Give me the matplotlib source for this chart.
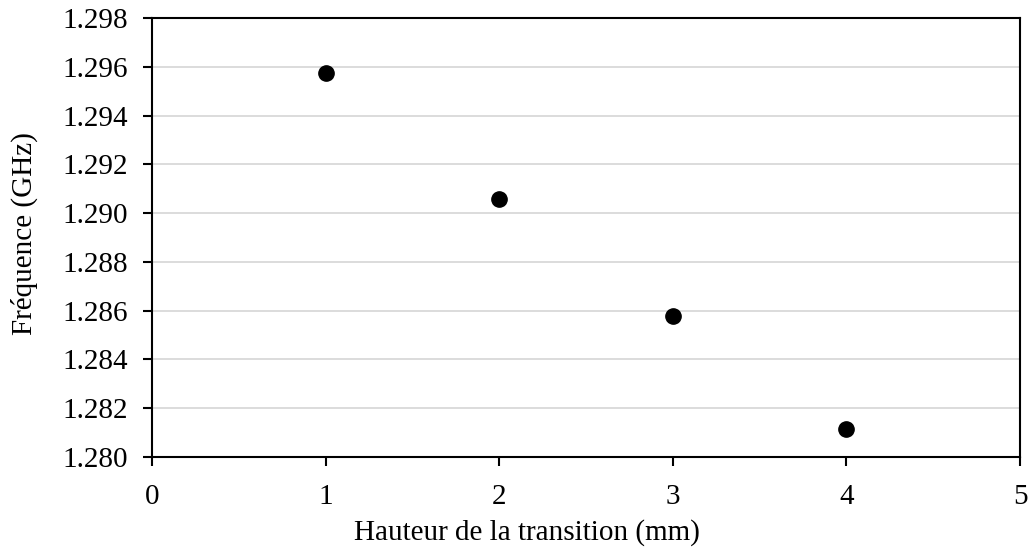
import matplotlib
matplotlib.use("Agg")
import matplotlib.pyplot as plt

hauteur_mm = [1, 2, 3, 4]
frequence_ghz = [1.29575, 1.29058, 1.28578, 1.28115]
x_ticks = [0, 1, 2, 3, 4, 5]
y_ticks = [1.280, 1.282, 1.284, 1.286, 1.288, 1.290, 1.292, 1.294, 1.296, 1.298]

plt.rcParams['font.family'] = ['Liberation Serif', 'DejaVu Serif']

fig = plt.figure(figsize=(10.28, 5.49), dpi=100)
ax = fig.add_axes([152/1028, 1 - 457/549, (1020-152)/1028, (457-18)/549])

ax.plot(hauteur_mm, frequence_ghz, 'o', color='black', markersize=11, zorder=3)

ax.set_xlim(0, 5)
ax.set_ylim(1.280, 1.298)
ax.set_xticks(x_ticks)
ax.set_yticks(y_ticks)
ax.set_yticklabels([f"{v:.3f}" for v in y_ticks])
ax.yaxis.grid(True, color='#d9d9d9', linewidth=1.3)
ax.set_axisbelow(True)

for s in ax.spines.values():
    s.set_linewidth(1.5)
    s.set_color('black')

ax.tick_params(axis='both', direction='out', length=6.5, width=1.5, labelsize=21)
ax.tick_params(axis='x', pad=13)
ax.tick_params(axis='y', pad=11)

ax.set_xlabel('Hauteur de la transition (mm)', fontsize=21)
ax.xaxis.set_label_coords(0.432, -0.141)
ax.set_ylabel('Fréquence (GHz)', fontsize=21)
ax.yaxis.set_label_coords(-0.131, 0.51)

fig.savefig('out.png', dpi=100)
